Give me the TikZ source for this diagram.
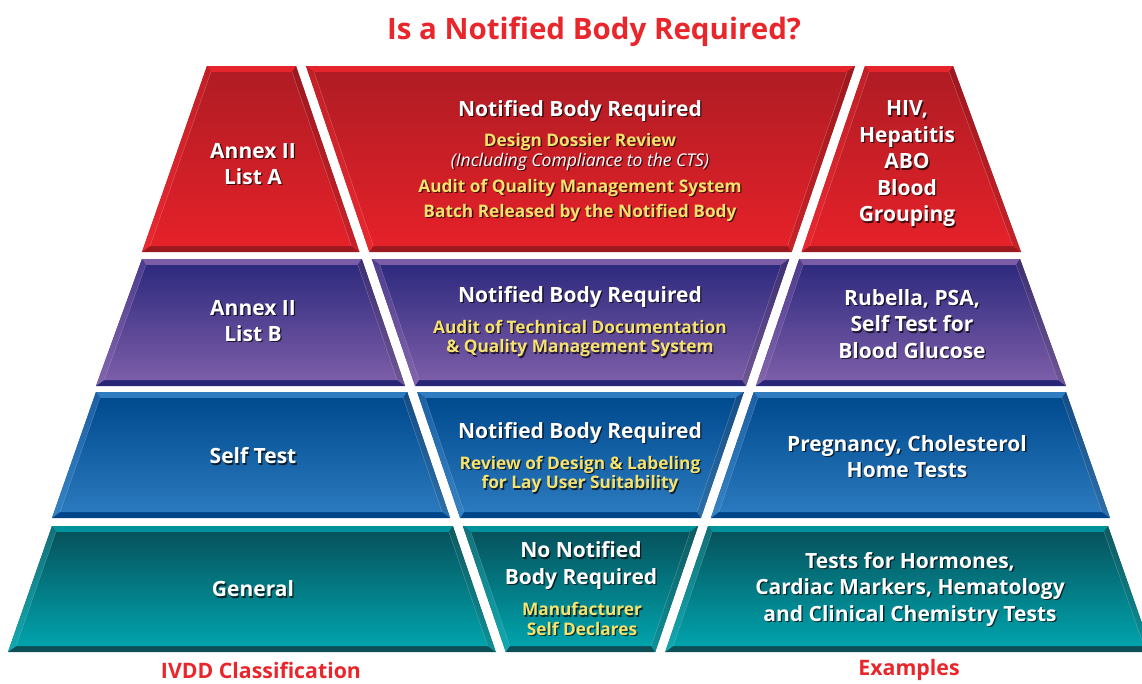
\documentclass[tikz,border=0pt]{standalone}
\usepackage{fontspec}
\setmainfont{Open Sans}
\usetikzlibrary{calc}

\definecolor{titlered}{HTML}{E8262B}
\definecolor{noteyellow}{HTML}{F6E26C}
% list A row
\definecolor{redfaceT}{HTML}{B01C24}
\definecolor{redfaceB}{HTML}{E52129}
\definecolor{redhi}{HTML}{E6242B}
\definecolor{redlo}{HTML}{9B1A1F}
\definecolor{redsideT}{HTML}{C21F27}
\definecolor{redsideB}{HTML}{EC2830}
% list B row
\definecolor{purpfaceT}{HTML}{2E2A7E}
\definecolor{purpfaceB}{HTML}{7C5DA8}
\definecolor{purphi}{HTML}{7A5CA7}
\definecolor{purplo}{HTML}{2A2677}
\definecolor{purpsideT}{HTML}{4D3C8E}
\definecolor{purpsideB}{HTML}{8465AE}
% self test row
\definecolor{bluefaceT}{HTML}{004A8E}
\definecolor{bluefaceB}{HTML}{2B79BE}
\definecolor{bluehi}{HTML}{2F7CC1}
\definecolor{bluelo}{HTML}{00458A}
\definecolor{bluesideT}{HTML}{1C5FA5}
\definecolor{bluesideB}{HTML}{3584C6}
% general row
\definecolor{tealfaceT}{HTML}{06535D}
\definecolor{tealfaceB}{HTML}{00A3AC}
\definecolor{tealhi}{HTML}{00929A}
\definecolor{teallo}{HTML}{0E4F57}
\definecolor{tealsideT}{HTML}{137078}
\definecolor{tealsideB}{HTML}{10ABB3}

% bevelled cell: TL x, TR x, BR x, BL x, top y, bottom y, row colour
\newcommand\bevel[7]{%
  \coordinate (tl) at (#1,#5); \coordinate (tr) at (#2,#5);
  \coordinate (br) at (#3,#6); \coordinate (bl) at (#4,#6);
  \pgfmathsetmacro\bvf{6/(#6-#5)}
  \pgfmathsetmacro\bvg{1-\bvf}
  \coordinate (itl) at ($(tl)!\bvf!(bl)+(6,0)$);
  \coordinate (ibl) at ($(tl)!\bvg!(bl)+(6,0)$);
  \coordinate (itr) at ($(tr)!\bvf!(br)+(-6,0)$);
  \coordinate (ibr) at ($(tr)!\bvg!(br)+(-6,0)$);
  \fill[#7lo] (tl) -- (tr) -- (br) -- (bl) -- cycle;
  \fill[#7hi] (tl) -- (tr) -- (itr) -- (itl) -- cycle;
  \shade[top color=#7sideT, bottom color=#7sideB] (tl) -- (itl) -- (ibl) -- (bl) -- cycle;
  \shade[top color=#7sideT!80!black, bottom color=#7sideB!85!black] (tr) -- (itr) -- (ibr) -- (br) -- cycle;
  \shade[top color=#7faceT, bottom color=#7faceB] (itl) -- (itr) -- (ibr) -- (ibl) -- cycle;
  \draw[white, opacity=.3, line width=.4pt] (itl) -- (ibl) (itr) -- (ibr);
}

% white text with a dark drop shadow
\newcommand\shadowed[4]{%
  \node[#3, text=black, opacity=.7] (#1s) at ($(#2)+(1.3,3.3)$) {#4};
  \node[#3] (#1) at ($(#2)+(0,2)$) {#4};
}

\begin{document}
\begin{tikzpicture}
[x=1pt, y=-1pt,
 big/.style={font=\bfseries\fontsize{21}{26.5}\selectfont, text=white, align=center, inner sep=0pt},
 note/.style={font=\bfseries\fontsize{17.3}{19.5}\selectfont, text=noteyellow, align=center, inner sep=0pt},
 paren/.style={font=\itshape\fontsize{17.5}{19}\selectfont, text=white, inner sep=0pt},
 caption/.style={font=\bfseries\fontsize{21.3}{24}\selectfont, text=titlered, inner sep=0pt}]
\useasboundingbox (0,0) rectangle (1142,683);

% the four rows, cut by two slanted white gaps
\foreach \yt/\yb/\lt/\lb/\rt/\rb/\rowc in {66/252/207/142/953/1021/red,
    259/386/142/96/1020/1066/purp, 392/518/96/52/1066/1110/blue,
    526/652/52/8/1108/1152/teal}{
  \pgfmathsetmacro\dlt{301+0.341*(\yt-66)}
  \pgfmathsetmacro\dlb{301+0.341*(\yb-66)}
  \pgfmathsetmacro\drt{860-0.341*(\yt-66)}
  \pgfmathsetmacro\drb{860-0.341*(\yb-66)}
  \bevel{\lt}{\dlt-5}{\dlb-5}{\lb}{\yt}{\yb}{\rowc}
  \bevel{\dlt+5}{\drt-5}{\drb-5}{\dlb+5}{\yt}{\yb}{\rowc}
  \bevel{\drt+5}{\rt}{\rb}{\drb+5}{\yt}{\yb}{\rowc}
}

\node[caption, font=\bfseries\fontsize{29.5}{32}\selectfont] (title) at (594,32) {Is a Notified Body Required?};

% classification column
\shadowed{listA}{253,162}{big}{Annex II\\List A}
\shadowed{listB}{253,319}{big}{Annex II\\List B}
\shadowed{selftest}{253,454}{big}{Self Test}
\shadowed{general}{253,587}{big}{General}

% requirement column
\shadowed{nbA}{580,109}{big}{Notified Body Required}
\shadowed{dossier}{580,140}{note}{Design Dossier Review}
\shadowed{cts}{580,160}{paren}{(Including Compliance to the CTS)}
\shadowed{qms}{580,186}{note}{Audit of Quality Management System}
\shadowed{batch}{580,211}{note}{Batch Released by the Notified Body}
\shadowed{nbB}{580,295}{big}{Notified Body Required}
\shadowed{techdoc}{580,336.5}{note}{Audit of Technical Documentation\\\& Quality Management System}
\shadowed{nbC}{580,431}{big}{Notified Body Required}
\shadowed{layuser}{580,472.5}{note}{Review of Design \& Labeling\\for Lay User Suitability}
\shadowed{nonb}{581,563.5}{big}{No Notified\\Body Required}
\shadowed{selfdecl}{582,617}{note}{Manufacturer\\Self Declares}

% examples column
\shadowed{hiv}{907,162}{big}{HIV,\\Hepatitis\\ABO\\Blood\\Grouping}
\shadowed{rubella}{912,322}{big}{Rubella, PSA,\\Self Test for\\Blood Glucose}
\shadowed{preg}{907,454.5}{big}{Pregnancy, Cholesterol\\Home Tests}
\shadowed{hormones}{910,587}{big}{Tests for Hormones,\\Cardiac Markers, Hematology\\and Clinical Chemistry Tests}

\node[caption] (ivdd) at (261,670) {IVDD Classification};
\node[caption] (examples) at (909,670) {Examples};
\end{tikzpicture}
\end{document}
